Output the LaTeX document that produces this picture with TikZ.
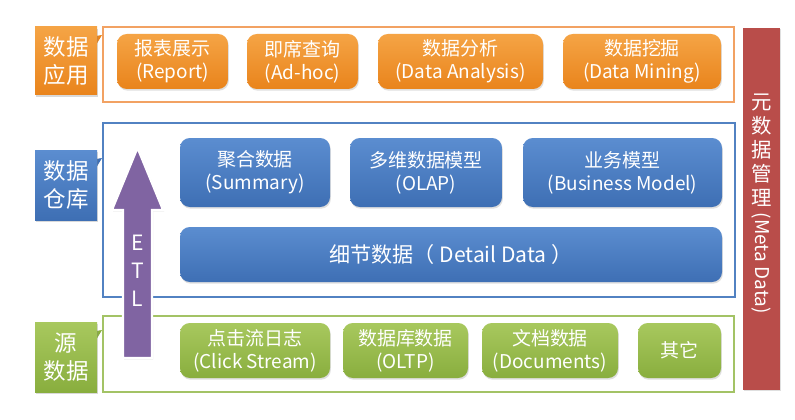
\documentclass[tikz,border=0pt]{standalone}
\usepackage{fontspec}
\setmainfont{Noto Sans CJK SC}
\usepackage{tikz}
\usetikzlibrary{shadows, positioning, calc}

\definecolor{apporange}{HTML}{E9841C}
\definecolor{apporangetop}{HTML}{F5A445}
\definecolor{appframe}{HTML}{F2A263}
\definecolor{dwblue}{HTML}{3E6FB4}
\definecolor{dwbluetop}{HTML}{5B8DD0}
\definecolor{dwframe}{HTML}{5282C2}
\definecolor{srcgreen}{HTML}{89AE3E}
\definecolor{srcgreentop}{HTML}{A8C85E}
\definecolor{srcframe}{HTML}{A3C365}
\definecolor{etlpurple}{HTML}{8064A2}
\definecolor{metared}{HTML}{B94D4A}

\tikzset{
  tile/.style={rounded corners=7pt, inner sep=0pt, align=center, text=white,
    font=\fontsize{13.5}{16.5}\selectfont,
    drop shadow={opacity=0.25, shadow xshift=0.6pt, shadow yshift=-1.2pt}},
  apptile/.style={tile, top color=apporangetop, bottom color=apporange},
  dwtile/.style={tile, top color=dwbluetop, bottom color=dwblue},
  srctile/.style={tile, top color=srcgreentop, bottom color=srcgreen},
  layertag/.style={inner sep=0pt, align=center, text=white,
    font=\fontsize{16}{20}\selectfont,
    drop shadow={opacity=0.3, shadow xshift=0.8pt, shadow yshift=-1.2pt}},
  layerframe/.style={line width=1.6pt, fill=white},
}

% Helper macro: \tile{name}{style}{x1}{y1}{x2}{y2}{text}
\def\tile#1#2#3#4#5#6#7{%
  \node[#2, minimum width={(#5-#3)*0.025cm}, minimum height={(#6-#4)*0.025cm}]
    (#1) at ({(#3+#5)/2},{(#4+#6)/2}) {#7};
}

\begin{document}
\begin{tikzpicture}[x=0.025cm, y=-0.025cm]
  \useasboundingbox (0,0) rectangle (795,420);

  % Layer frames
  \draw[layerframe, draw=appframe] (103,27) rectangle (734,102);
  \draw[layerframe, draw=dwframe] (103,123) rectangle (735,297);
  \draw[layerframe, draw=srcframe] (103,316) rectangle (734,392);

  % Layer tags with small tails
  \fill[apporange] (96,36) -- (102,35) -- (96,45) -- cycle;
  \tile{tagapp}{layertag, top color=apporangetop, bottom color=apporange}{35}{27}{97}{95}{数据\\应用}
  \fill[dwblue] (96,159) -- (102,158) -- (96,168) -- cycle;
  \tile{tagdw}{layertag, top color=dwbluetop, bottom color=dwblue}{35}{150}{97}{220}{数据\\仓库}
  \fill[srcgreen] (96,331) -- (102,330) -- (96,340) -- cycle;
  \tile{tagsrc}{layertag, top color=srcgreentop, bottom color=srcgreen}{35}{322}{97}{392}{源\\数据}

  % Application layer
  \tile{report}{apptile}{117}{34}{228}{89}{报表展示\\(Report)}
  \tile{adhoc}{apptile}{247}{34}{358}{89}{即席查询\\(Ad-hoc)}
  \tile{analysis}{apptile}{378}{34}{543}{89}{数据分析\\(Data Analysis)}
  \tile{mining}{apptile}{563}{34}{721}{89}{数据挖掘\\(Data Mining)}

  % Warehouse layer
  \tile{summary}{dwtile}{180}{138}{330}{207}{聚合数据\\(Summary)}
  \tile{olap}{dwtile}{350}{138}{502}{207}{多维数据模型\\(OLAP)}
  \tile{business}{dwtile}{523}{138}{722}{207}{业务模型\\(Business Model)}
  \tile{detail}{dwtile, font=\fontsize{15}{18}\selectfont}{180}{227}{722}{282}{细节数据（ Detail Data ）}

  % Source layer
  \tile{click}{srctile}{180}{323}{330}{378}{点击流日志\\(Click Stream)}
  \tile{oltp}{srctile}{343}{323}{468}{378}{数据库数据\\(OLTP)}
  \tile{docs}{srctile}{482}{323}{618}{378}{文档数据\\(Documents)}
  \tile{other}{srctile}{638}{323}{721}{378}{其它}

  % ETL arrow
  \draw[fill=etlpurple, draw=white, line width=1.5pt, line join=miter,
        drop shadow={opacity=0.25, shadow xshift=0.8pt, shadow yshift=-1pt}]
    (123,358) -- (123,210) -- (112,210) -- (137.5,148) -- (163,210)
    -- (152,210) -- (152,358) -- cycle;
  \node[text=white, font=\fontsize{15}{20}\selectfont, align=center]
    (etl) at (137.5,271) {E\\T\\L};

  % Meta data bar
  \fill[metared, drop shadow={opacity=0.25, shadow xshift=0.8pt, shadow yshift=-1pt}]
    (743,28) rectangle (780,390);
  \node[text=white, font=\fontsize{14.5}{17}\selectfont, align=center, anchor=north]
    (metacn) at (761.5,89) {元\\数\\据\\管\\理};
  \node[text=white, font=\fontsize{13.5}{16}\selectfont, rotate=-90, anchor=west,
        inner sep=1pt] (metaen) at (metacn.south) {(Meta Data)};
\end{tikzpicture}
\end{document}
